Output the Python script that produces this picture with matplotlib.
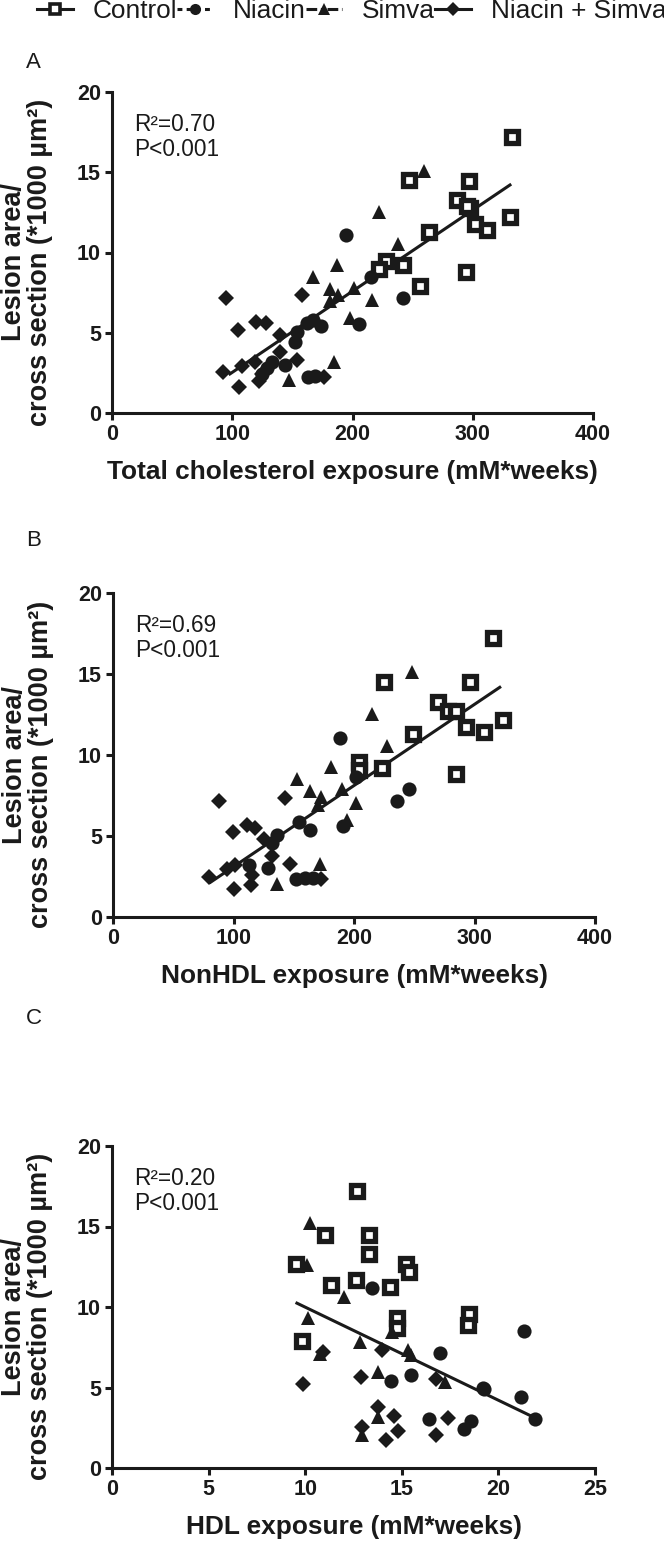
import matplotlib
matplotlib.use('Agg')
import matplotlib.pyplot as plt
import numpy as np
from matplotlib.lines import Line2D

plt.rcParams['font.family'] = ['Liberation Sans', 'DejaVu Sans']

# ---------------- data ----------------
group_names = ['Control', 'Niacin', 'Simva', 'Niacin + Simva']

# Panel A: total cholesterol exposure (mM*weeks) vs lesion area (*1000 um2)
a_ctrl_x = [333, 247, 297, 287, 298, 295, 302, 312, 331, 264, 294, 256, 242, 228, 222]
a_ctrl_y = [17.2, 14.5, 14.45, 13.3, 12.75, 12.9, 11.8, 11.4, 12.2, 11.3, 8.8, 7.9, 9.2, 9.5, 9.0]
a_niac_x = [195, 215, 242, 205, 174, 167, 162, 154, 152, 144, 133, 129, 125, 163, 169]
a_niac_y = [11.1, 8.5, 7.15, 5.55, 5.45, 5.8, 5.6, 5.07, 4.44, 3.0, 3.2, 2.8, 2.4, 2.26, 2.3]
a_simv_x = [259.5, 222, 238, 187, 167, 181, 201, 188, 181, 216, 198, 185, 147.5]
a_simv_y = [15.1, 12.55, 10.55, 9.2, 8.45, 7.75, 7.8, 7.35, 6.95, 7.05, 5.9, 3.15, 2.05]
a_ns_x = [95, 105, 120, 128, 158, 140, 140, 154, 119, 108, 92, 106, 122, 176, 125]
a_ns_y = [7.15, 5.17, 5.7, 5.6, 7.35, 4.85, 3.8, 3.3, 3.2, 2.9, 2.55, 1.65, 2.0, 2.25, 2.4]
a_fit_x = [97, 332]
a_fit_y = [2.38, 14.26]

# Panel B: nonHDL exposure
b_ctrl_x = [315, 224.5, 296.5, 270, 278, 285, 293, 308, 324, 249, 223, 285, 204, 204]
b_ctrl_y = [17.2, 14.5, 14.5, 13.3, 12.7, 12.7, 11.7, 11.4, 12.15, 11.3, 9.2, 8.8, 9.55, 9.1]
b_niac_x = [188.5, 202, 246, 235.5, 191, 154, 163.5, 136, 132, 129, 113, 152, 159, 166]
b_niac_y = [11.05, 8.65, 7.9, 7.18, 5.6, 5.85, 5.4, 5.05, 4.55, 3.05, 3.2, 2.35, 2.4, 2.4]
b_simv_x = [248, 215, 227, 181, 152.5, 163.5, 190, 173, 170.5, 202, 194, 171.5, 136]
b_simv_y = [15.1, 12.55, 10.55, 9.25, 8.5, 7.75, 7.9, 7.4, 6.9, 7.05, 6.0, 3.25, 2.05]
b_ns_x = [88, 99.5, 111, 118, 143, 132, 147, 95, 101, 80, 100, 114.5, 115, 125, 173]
b_ns_y = [7.18, 5.25, 5.7, 5.5, 7.32, 3.75, 3.3, 2.95, 3.2, 2.5, 1.72, 1.97, 2.6, 4.8, 2.33]
b_fit_x = [80, 322]
b_fit_y = [2.10, 14.23]

# Panel C: HDL exposure
c_ctrl_x = [12.66, 11.04, 13.32, 13.32, 9.52, 15.2, 15.35, 11.35, 12.61, 14.39, 14.75, 14.77, 18.48, 18.41, 9.85]
c_ctrl_y = [17.2, 14.5, 14.5, 13.3, 12.7, 12.7, 12.2, 11.35, 11.65, 11.25, 9.3, 8.7, 9.55, 8.9, 7.9]
c_niac_x = [13.44, 21.34, 17.0, 15.5, 14.45, 19.27, 21.17, 21.9, 16.42, 18.6, 18.2, 19.2]
c_niac_y = [11.15, 8.5, 7.17, 5.8, 5.42, 4.93, 4.41, 3.07, 3.03, 2.95, 2.4, 5.0]
c_simv_x = [10.25, 10.11, 12.01, 10.16, 14.48, 12.84, 15.34, 15.48, 10.77, 13.79, 17.24, 13.79, 12.92]
c_simv_y = [15.2, 12.6, 10.6, 9.3, 8.45, 7.8, 7.3, 7.0, 7.05, 5.97, 5.35, 3.17, 2.03]
c_ns_x = [9.9, 10.9, 13.96, 12.9, 16.75, 13.79, 14.6, 14.82, 14.2, 12.95, 17.41, 16.75]
c_ns_y = [5.2, 7.18, 7.3, 5.66, 5.55, 3.8, 3.25, 2.32, 1.73, 2.55, 3.13, 2.04]
c_fit_x = [9.5, 21.9]
c_fit_y = [10.28, 3.11]

panel_letters = ['A', 'B', 'C']
x_labels = ['Total cholesterol exposure (mM*weeks)',
            'NonHDL exposure (mM*weeks)',
            'HDL exposure (mM*weeks)']
r2_texts = ['R²=0.70\nP<0.001', 'R²=0.69\nP<0.001', 'R²=0.20\nP<0.001']
x_ticks_list = [[0, 100, 200, 300, 400], [0, 100, 200, 300, 400], [0, 5, 10, 15, 20, 25]]
y_ticks = [0, 5, 10, 15, 20]
y_label = 'Lesion area/\ncross section (*1000 µm²)'

panels = [
    [(a_ctrl_x, a_ctrl_y), (a_niac_x, a_niac_y), (a_simv_x, a_simv_y), (a_ns_x, a_ns_y)],
    [(b_ctrl_x, b_ctrl_y), (b_niac_x, b_niac_y), (b_simv_x, b_simv_y), (b_ns_x, b_ns_y)],
    [(c_ctrl_x, c_ctrl_y), (c_niac_x, c_niac_y), (c_simv_x, c_simv_y), (c_ns_x, c_ns_y)],
]
fits = [(a_fit_x, a_fit_y), (b_fit_x, b_fit_y), (c_fit_x, c_fit_y)]

# ---------------- styles ----------------
W, H = 664, 1544
ink = '#1a1a1a'
marker_styles = [
    dict(marker='s', markersize=9.0, markerfacecolor='white', markeredgecolor=ink, markeredgewidth=3.8),
    dict(marker='o', markersize=10.2, markerfacecolor=ink, markeredgecolor=ink, markeredgewidth=0),
    dict(marker='^', markersize=10.2, markerfacecolor=ink, markeredgecolor=ink, markeredgewidth=0),
    dict(marker='D', markersize=8.2, markerfacecolor=ink, markeredgecolor=ink, markeredgewidth=0),
]
legend_ls = ['-', (0, (1.6, 1.4)), (0, (3.5, 1.2, 1.0, 1.2)), '-']

# axes rectangles in pixels: left, right, top, bottom
ax_px = [(112, 593, 92, 413), (113, 595, 593, 917), (112, 595, 1146, 1468)]
letter_px = [(26, 62), (26, 540), (26, 1018)]

fig = plt.figure(figsize=(W / 100, H / 100), dpi=100)

for i, (l, r, t, b) in enumerate(ax_px):
    ax = fig.add_axes([l / W, 1 - b / H, (r - l) / W, (b - t) / H])
    for (gx, gy), st in zip(panels[i], marker_styles):
        ax.plot(gx, gy, linestyle='none', clip_on=False, zorder=3, **st)
    fx, fy = fits[i]
    ax.plot(fx, fy, color=ink, lw=2.2, zorder=2, solid_capstyle='butt')

    xt = x_ticks_list[i]
    ax.set_xlim(xt[0], xt[-1])
    ax.set_ylim(0, 20)
    ax.set_xticks(xt)
    ax.set_yticks(y_ticks)
    for s in ['top', 'right']:
        ax.spines[s].set_visible(False)
    for s in ['left', 'bottom']:
        ax.spines[s].set_linewidth(2.2)
        ax.spines[s].set_color(ink)
    ax.tick_params(axis='both', direction='out', length=5, width=2.2, color=ink,
                   labelsize=15.5, pad=3, labelcolor=ink)
    for lab in ax.get_xticklabels() + ax.get_yticklabels():
        lab.set_fontweight('bold')
    ax.set_xlabel(x_labels[i], fontsize=18.9, fontweight='bold', color=ink)
    ax.xaxis.set_label_coords(0.5, -0.145)
    ax.set_ylabel(y_label, fontsize=19.5, fontweight='bold', color=ink, linespacing=1.0)
    ax.yaxis.set_label_coords(-0.122, 0.47)
    ax.text(0.045, 0.935, r2_texts[i], transform=ax.transAxes, ha='left', va='top',
            fontsize=16.3, color=ink, linespacing=1.1)
    lx, ly = letter_px[i]
    fig.text(lx / W, 1 - ly / H, panel_letters[i], fontsize=16, color=ink,
             ha='left', va='center')

# legend
handles = []
leg_ms = [7.0, 8.0, 8.5, 7.5]
for st, ls, ms in zip(marker_styles, legend_ls, leg_ms):
    d = dict(st)
    d['markersize'] = ms
    if d['marker'] == 's':
        d['markeredgewidth'] = 2.6
    handles.append(Line2D([0], [0], color=ink, lw=2.2, linestyle=ls, **d))
fig.legend(handles, group_names, loc='center left', bbox_to_anchor=(37 / W, 1 - 11 / H),
           ncol=4, frameon=False, handlelength=1.37, handletextpad=0.76, columnspacing=0.0,
           borderpad=0, borderaxespad=0, fontsize=18.9, labelcolor=ink)

fig.savefig('out.png', dpi=100)
